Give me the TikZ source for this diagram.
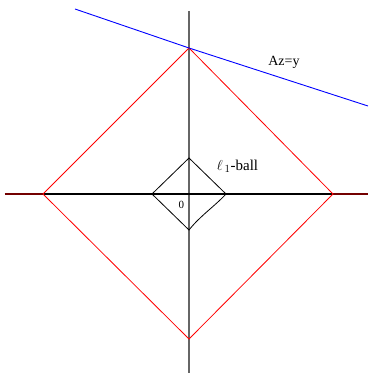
\documentclass[tikz,border=0pt]{standalone}
\usepackage{fontspec}
\setmainfont{Liberation Serif}
\begin{document}
\begin{tikzpicture}[x=1pt,y=1pt,
  axis/.style={line width=1.4pt},
  vaxis/.style={line width=1.4pt,draw=black!60},
  bigball/.style={draw=red,line width=0.8pt},
  smallball/.style={draw=black,line width=0.8pt},
  affine/.style={draw=blue,line width=0.9pt},
  lbl/.style={font=\fontsize{14}{16}\selectfont,inner sep=0pt},
  balllbl/.style={font=\fontsize{15}{17}\selectfont,inner sep=0pt},
  zero/.style={font=\fontsize{11}{13}\selectfont,inner sep=0pt}]
\useasboundingbox (0,0) rectangle (368,376);
% coordinates (y measured upwards: y = 376 - pixel row)
\coordinate (xl) at (5,182);
\coordinate (xr) at (368,182);
\coordinate (yt) at (189,365);
\coordinate (yb) at (189,3);
\coordinate (rt) at (189,328);
\coordinate (rb) at (189,37);
\coordinate (rl) at (43,182);
\coordinate (rr) at (333,182);
\coordinate (st) at (189,218);
\coordinate (sb) at (189,146);
\coordinate (sl) at (152,182);
\coordinate (sr) at (226,182);
\coordinate (b1) at (75,367);
\coordinate (b2) at (368,270);
% axes
\draw[vaxis] (yt) -- (yb);
\draw[axis] (xl) -- (xr);
\draw[axis,draw=red!45!black] (xl) -- (rl);
\draw[axis,draw=red!45!black] (rr) -- (xr);
% big l1 ball
\draw[bigball] (rt) -- (rr) -- (rb) -- (rl) -- cycle;
% small l1 ball
\draw[smallball] (st) -- (sr) .. controls (215,170) and (200,160) .. (sb) -- (sl) -- cycle;
% affine set
\draw[affine] (b1) -- (rt) -- (b2);
% labels
\node[lbl] (laz) at (284,314) {Az=y};
\node[balllbl] (lball) at (237.5,210) {$\ell_{\,1}$-ball};
\node[zero] (lzero) at (181.5,171) {0};
\end{tikzpicture}
\end{document}
